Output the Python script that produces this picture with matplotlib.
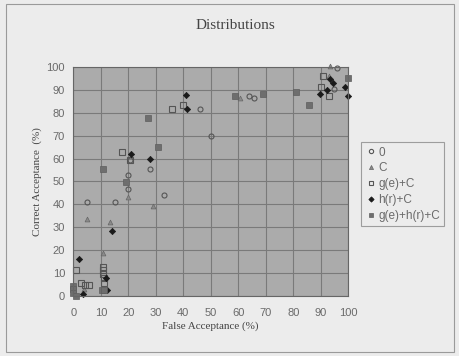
import matplotlib
matplotlib.use("Agg")
import matplotlib.pyplot as plt
from matplotlib.patches import Rectangle

# ---------------------------------------------------------------------------
# Data (False Acceptance %, Correct Acceptance %)
# ---------------------------------------------------------------------------
zero_x = [4.9, 15.2, 20.0, 20.0, 20.6, 27.9, 33.0, 46.0, 50.0, 63.9, 65.7, 96.0, 94.8]
zero_y = [41.2, 41.2, 46.6, 52.8, 59.4, 55.3, 44.1, 81.7, 70.0, 87.4, 86.4, 99.6, 90.5]

c_x = [4.9, 13.3, 10.9, 3.9, 20.0, 29.1, 60.6, 93.3, 92.9]
c_y = [33.6, 32.2, 18.6, 2.8, 43.0, 39.2, 86.4, 100.7, 96.3]

ge_x = [0.9, 2.7, 4.3, 5.7, 10.9, 10.9, 10.9, 11.3, 11.3, 17.8, 20.6, 36.0, 40.0, 90.9, 90.0, 92.9]
ge_y = [11.3, 5.4, 4.7, 4.7, 12.7, 11.3, 9.5, 7.6, 5.4, 62.9, 59.4, 81.7, 83.5, 96.3, 91.5, 87.4]

hr_x = [2.1, 3.6, 11.9, 12.1, 14.2, 20.9, 27.9, 41.0, 41.5, 94.3, 92.1, 89.7, 98.7, 100.0, 93.5]
hr_y = [16.1, 0.6, 7.6, 2.5, 28.3, 62.0, 59.7, 88.0, 81.6, 93.3, 90.0, 88.2, 91.5, 87.6, 95.0]

gehr_x = [0.0, 0.0, 0.0, 0.9, 10.3, 11.3, 10.9, 19.2, 27.0, 30.9, 58.8, 68.9, 80.9, 85.8, 100.0]
gehr_y = [4.2, 2.8, 1.1, 0.0, 2.5, 2.5, 55.3, 49.9, 78.0, 65.0, 87.4, 88.2, 89.1, 83.5, 95.2]

ticks = list(range(0, 101, 10))

BG = "#ececec"
PLOT_BG = "#ababab"
GRID = "#7a7a7a"
TEXT = "#444444"
TICK = "#6a6a6a"

fig = plt.figure(figsize=(4.59, 3.56), dpi=100, facecolor=BG)

# chart-area frame
fig.patches.append(Rectangle((0.012, 0.012), 0.978, 0.978, transform=fig.transFigure,
                             fill=False, edgecolor="#9a9a9a", linewidth=0.8))

ax = fig.add_axes([0.1597, 0.1694, 0.5991, 0.6416])
ax.set_facecolor(PLOT_BG)

series = [
    ("0", zero_x, zero_y, dict(marker="o", ms=3.6, mfc="none", mec="#555555", mew=0.8)),
    ("C", c_x, c_y, dict(marker="^", ms=3.5, mfc="#8a8a8a", mec="#666666", mew=0.5)),
    ("g(e)+C", ge_x, ge_y, dict(marker="s", ms=3.8, mfc="none", mec="#555555", mew=0.8)),
    ("h(r)+C", hr_x, hr_y, dict(marker="D", ms=3.2, mfc="#1a1a1a", mec="#1a1a1a", mew=0.5)),
    ("g(e)+h(r)+C", gehr_x, gehr_y, dict(marker="s", ms=3.9, mfc="#6e6e6e", mec="#5e5e5e", mew=0.5)),
]
for label, xs, ys, style in series:
    ax.plot(xs, ys, linestyle="none", label=label, clip_on=False, **style)

ax.set_xlim(0, 100)
ax.set_ylim(0, 100)
ax.set_xticks(ticks)
ax.set_yticks(ticks)
ax.grid(True, color=GRID, linewidth=0.8)
ax.set_axisbelow(True)
for sp in ax.spines.values():
    sp.set_color("#666666")
    sp.set_linewidth(0.8)
ax.tick_params(length=0, labelsize=8, colors=TICK)
ax.tick_params(axis="x", pad=9)
ax.tick_params(axis="y", pad=6)
for lab in ax.get_xticklabels() + ax.get_yticklabels():
    lab.set_family("Liberation Sans")

fig.text(0.512, 0.928, "Distributions", ha="center", va="center",
         family="Liberation Serif", fontsize=11, color=TEXT)
fig.text(0.458, 0.085, "False Acceptance (%)", ha="center", va="center",
         family="Liberation Serif", fontsize=8, color=TEXT)
fig.text(0.080, 0.49, "Correct Acceptance  (%)", ha="center", va="center", rotation=90,
         family="Liberation Serif", fontsize=8, color=TEXT)

leg = fig.legend(loc="upper left", bbox_to_anchor=(0.787, 0.6), frameon=True,
                 prop={"family": "Liberation Sans", "size": 8.5}, handletextpad=0.1,
                 handlelength=1.0, borderpad=0.35, labelspacing=0.32, markerscale=0.85,
                 fancybox=False, borderaxespad=0)
leg.get_frame().set_facecolor(BG)
leg.get_frame().set_edgecolor("#8a8a8a")
leg.get_frame().set_linewidth(0.8)
for t in leg.get_texts():
    t.set_color(TICK)

fig.savefig("out.png", dpi=100, facecolor=BG)
